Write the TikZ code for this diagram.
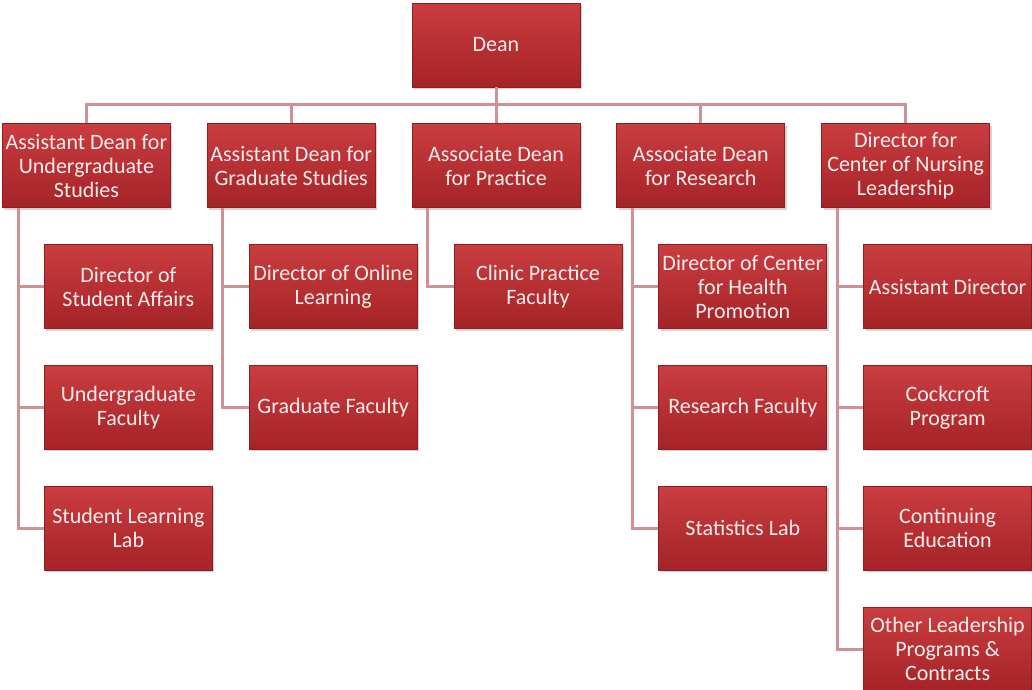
\documentclass[tikz,border=0pt]{standalone}
\usepackage{fontspec}
\setmainfont{Carlito}
\usetikzlibrary{positioning,shadows}
\definecolor{boxtop}{HTML}{C93D40}
\definecolor{boxbot}{HTML}{A52327}
\definecolor{boxline}{HTML}{8E1D20}
\definecolor{linkc}{HTML}{CF9194}
\definecolor{boxtext}{HTML}{FBEDEC}

\begin{document}
\begin{tikzpicture}[
  node distance=36pt and 36pt,
  box/.style={draw=boxline, line width=0.8pt, top color=boxtop, bottom color=boxbot, text=boxtext, font=\fontsize{22}{24}\selectfont, align=center, minimum width=168pt, minimum height=84pt, inner sep=1pt, drop shadow={shadow xshift=2pt, shadow yshift=-2pt, opacity=0.35}},
  sub/.style={box, below=of #1, xshift=42pt},
  link/.style={draw=linkc, line width=3pt}
]
\useasboundingbox (0,0) rectangle (1032pt,-689pt);
\node[box] (dean) at (496pt,-45pt) {Dean};
\node[box, below=of dean] (prac) {Associate Dean\\for Practice};
\node[box, left=of prac] (grad) {Assistant Dean for\\Graduate Studies};
\node[box, left=of grad] (ugrad) {Assistant Dean for\\Undergraduate\\Studies};
\node[box, right=of prac] (res) {Associate Dean\\for Research};
\node[box, right=of res] (lead) {Director for\\Center of Nursing\\Leadership};
\node[sub=ugrad] (ug1) {Director of\\Student Affairs};
\node[box, below=of ug1] (ug2) {Undergraduate\\Faculty};
\node[box, below=of ug2] (ug3) {Student Learning\\Lab};
\node[sub=grad] (gr1) {Director of Online\\Learning};
\node[box, below=of gr1] (gr2) {Graduate Faculty};
\node[sub=prac] (pr1) {Clinic Practice\\Faculty};
\node[sub=res] (rs1) {Director of Center\\for Health\\Promotion};
\node[box, below=of rs1] (rs2) {Research Faculty};
\node[box, below=of rs2] (rs3) {Statistics Lab};
\node[sub=lead] (ld1) {Assistant Director};
\node[box, below=of ld1] (ld2) {Cockcroft\\Program};
\node[box, below=of ld2] (ld3) {Continuing\\Education};
\node[box, below=of ld3] (ld4) {Other Leadership\\Programs \&\\Contracts};
\draw[link] (dean.south) -- ++(0,-17pt) -| (ugrad.north);
\draw[link] (dean.south) -- ++(0,-17pt) -| (grad.north);
\draw[link] (dean.south) -- (prac.north);
\draw[link] (dean.south) -- ++(0,-17pt) -| (res.north);
\draw[link] (dean.south) -- ++(0,-17pt) -| (lead.north);
\draw[link] ([xshift=16pt]ugrad.south west) |- (ug1.west);
\draw[link] ([xshift=16pt]ugrad.south west) |- (ug2.west);
\draw[link] ([xshift=16pt]ugrad.south west) |- (ug3.west);
\draw[link] ([xshift=16pt]grad.south west) |- (gr1.west);
\draw[link] ([xshift=16pt]grad.south west) |- (gr2.west);
\draw[link] ([xshift=16pt]prac.south west) |- (pr1.west);
\draw[link] ([xshift=16pt]res.south west) |- (rs1.west);
\draw[link] ([xshift=16pt]res.south west) |- (rs2.west);
\draw[link] ([xshift=16pt]res.south west) |- (rs3.west);
\draw[link] ([xshift=16pt]lead.south west) |- (ld1.west);
\draw[link] ([xshift=16pt]lead.south west) |- (ld2.west);
\draw[link] ([xshift=16pt]lead.south west) |- (ld3.west);
\draw[link] ([xshift=16pt]lead.south west) |- (ld4.west);
\end{tikzpicture}
\end{document}
